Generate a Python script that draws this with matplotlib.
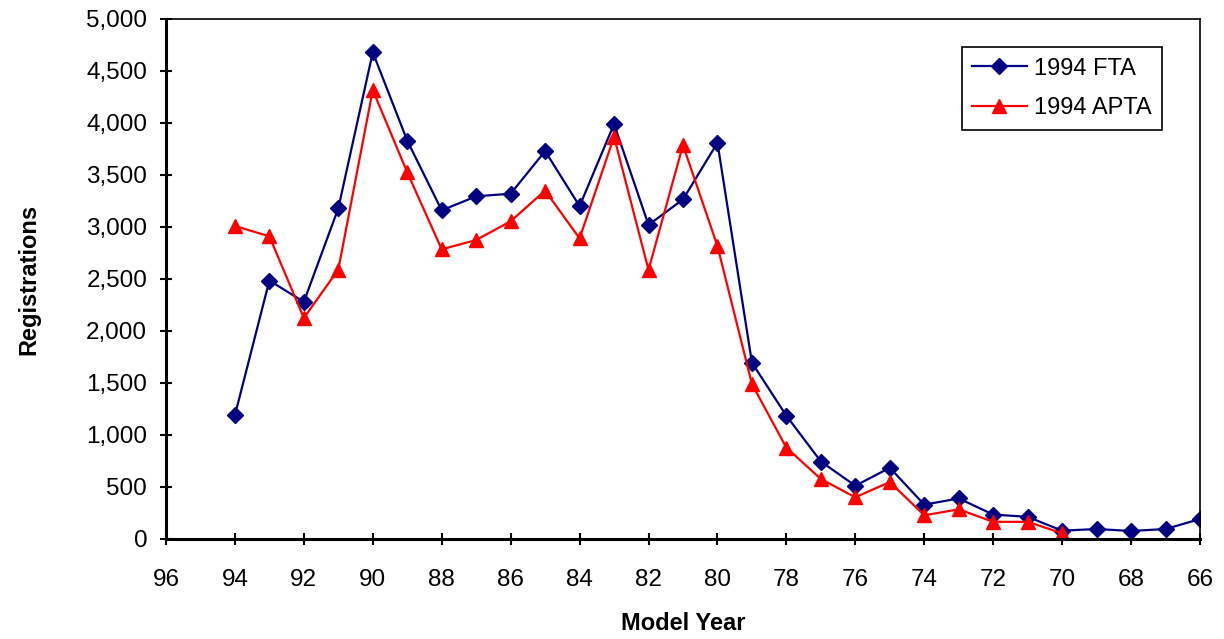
import matplotlib.pyplot as plt
from matplotlib.ticker import FuncFormatter

# model years, plotted newest to oldest
years = [94, 93, 92, 91, 90, 89, 88, 87, 86, 85, 84, 83, 82, 81, 80,
         79, 78, 77, 76, 75, 74, 73, 72, 71, 70, 69, 68, 67, 66]
fta = [1190, 2485, 2280, 3180, 4680, 3830, 3160, 3295, 3320, 3730, 3200, 3990, 3020, 3265, 3810,
       1695, 1185, 745, 512, 685, 330, 390, 235, 213, 80, 96, 77, 96, 192]

apta_years = [94, 93, 92, 91, 90, 89, 88, 87, 86, 85, 84, 83, 82, 81, 80,
              79, 78, 77, 76, 75, 74, 73, 72, 71, 70]
apta = [3010, 2910, 2125, 2590, 4317, 3525, 2785, 2875, 3055, 3350, 2890, 3868, 2587, 3788, 2817,
        1490, 878, 577, 401, 548, 228, 285, 165, 165, 55]

x_ticks = list(range(96, 65, -2))
y_ticks = list(range(0, 5001, 500))


def main():
    plt.rcParams['font.family'] = ['Liberation Sans', 'DejaVu Sans']
    fig = plt.figure(figsize=(12.24, 6.39), dpi=100)
    ax = fig.add_axes([0.1356, 0.1565, 0.8448, 0.8138])

    ax.plot(years, fta, color='#000080', lw=1.6, marker='D', ms=8.5, label='1994 FTA')
    ax.plot(apta_years, apta, color='#FF0000', lw=1.6, marker='^', ms=10, label='1994 APTA')

    ax.set_xlim(96, 66)
    ax.set_ylim(0, 5000)
    ax.set_xticks(x_ticks)
    ax.set_yticks(y_ticks)
    ax.yaxis.set_major_formatter(FuncFormatter(lambda v, p: f'{int(v):,}'))
    ax.tick_params(direction='inout', length=9, width=1.5, labelsize=17.5)
    ax.tick_params(axis='y', pad=9)
    ax.tick_params(axis='x', pad=17)

    for side in ['left', 'bottom']:
        ax.spines[side].set_linewidth(2.2)
    for side in ['top', 'right']:
        ax.spines[side].set_linewidth(1.2)

    ax.set_xlabel('Model Year', fontsize=17, fontweight='bold', labelpad=15)
    ax.set_ylabel('Registrations', fontsize=17, fontweight='bold', labelpad=33)

    leg = ax.legend(loc='upper right', bbox_to_anchor=(0.9632, 0.946), fontsize=17,
                    fancybox=False, edgecolor='black', framealpha=1,
                    handlelength=2.3, handletextpad=0.3, borderpad=0.45,
                    labelspacing=0.75, borderaxespad=0)
    leg.get_frame().set_linewidth(1.2)

    fig.savefig('out.png', dpi=100)


if __name__ == "__main__":
    main()
